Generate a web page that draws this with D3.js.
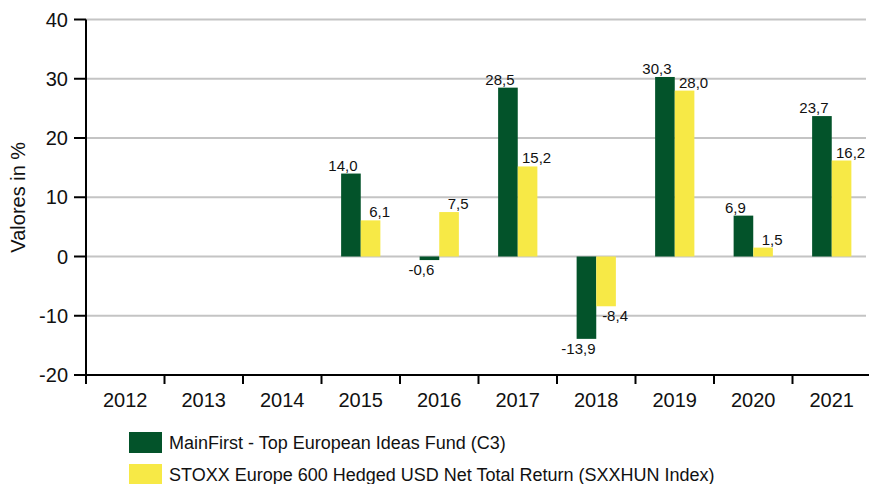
<!DOCTYPE html>
<html>
<head>
<meta charset="utf-8">
<script src="https://cdn.jsdelivr.net/npm/d3@7"></script>
<style>
  html, body { margin: 0; padding: 0; background: #fff; }
  svg { display: block; font-family: "Liberation Sans", Arial, sans-serif; }
</style>
</head>
<body>
<div id="chart"></div>
<script>
// Données
const years = ["2012", "2013", "2014", "2015", "2016", "2017", "2018", "2019", "2020", "2021"]
const fund = [null, null, null, 14.0, -0.6, 28.5, -13.9, 30.3, 6.9, 23.7]
const index = [null, null, null, 6.1, 7.5, 15.2, -8.4, 28.0, 1.5, 16.2]
const yTicks = [-20, -10, 0, 10, 20, 30, 40]
const seriesNames = [
  "MainFirst - Top European Ideas Fund (C3)",
  "STOXX Europe 600 Hedged USD Net Total Return (SXXHUN Index)",
]
const colors = ["#03532a", "#f7e946"]

const W = 869, H = 484
const svg = d3.select("#chart").append("svg")
  .attr("width", W).attr("height", H)

const x = d3.scaleBand().domain(years).range([86, 871])
const y = d3.scaleLinear().domain([-20, 40]).range([375, 19.5])
const barW = x.bandwidth() / 4

// Grille
svg.append("g")
  .selectAll("line")
  .data(yTicks.filter(d => d > -20))
  .join("line")
  .attr("x1", 86).attr("x2", 866)
  .attr("y1", d => y(d)).attr("y2", d => y(d))
  .attr("stroke", "#c4c4c4").attr("stroke-width", 2)

// Barres
const series = [fund, index]
series.forEach((vals, s) => {
  svg.append("g")
    .selectAll("rect")
    .data(years.map((yr, i) => ({ yr, v: vals[i] })).filter(d => d.v !== null))
    .join("rect")
    .attr("x", d => x(d.yr) + x.bandwidth() / 2 - barW + s * barW)
    .attr("width", barW)
    .attr("y", d => y(Math.max(0, d.v)))
    .attr("height", d => Math.abs(y(d.v) - y(0)))
    .attr("fill", colors[s])
})

// Étiquettes de valeurs
series.forEach((vals, s) => {
  svg.append("g")
    .selectAll("text")
    .data(years.map((yr, i) => ({ yr, v: vals[i] })).filter(d => d.v !== null))
    .join("text")
    .attr("x", d => x(d.yr) + x.bandwidth() / 2 - barW / 2 + s * barW + (s === 0 ? -8 : 9))
    .attr("y", d => d.v >= 0 ? y(d.v) - 3 : y(d.v) + 15)
    .attr("text-anchor", "middle")
    .attr("font-size", 15)
    .attr("fill", "#111")
    .text(d => d3.format(".1f")(d.v).replace(".", ",").replace("−", "-"))
})

// Axe Y
svg.append("line")
  .attr("x1", 86).attr("x2", 86).attr("y1", y(40)).attr("y2", y(-20) + 8)
  .attr("stroke", "#000").attr("stroke-width", 2)
svg.append("g")
  .selectAll("line")
  .data(yTicks)
  .join("line")
  .attr("x1", 74).attr("x2", 86)
  .attr("y1", d => y(d)).attr("y2", d => y(d))
  .attr("stroke", "#000").attr("stroke-width", 2)
svg.append("g")
  .selectAll("text")
  .data(yTicks)
  .join("text")
  .attr("x", 68).attr("y", d => y(d))
  .attr("dy", "0.36em")
  .attr("text-anchor", "end")
  .attr("font-size", 20)
  .attr("fill", "#111")
  .text(d => d)

svg.append("text")
  .attr("transform", `translate(25,${(y(40) + y(-20)) / 2}) rotate(-90)`)
  .attr("text-anchor", "middle")
  .attr("font-size", 20)
  .attr("fill", "#111")
  .text("Valores in %")

// Axe X
svg.append("line")
  .attr("x1", 86).attr("x2", W).attr("y1", y(-20)).attr("y2", y(-20))
  .attr("stroke", "#000").attr("stroke-width", 2)
svg.append("g")
  .selectAll("line")
  .data(years)
  .join("line")
  .attr("x1", d => x(d)).attr("x2", d => x(d))
  .attr("y1", y(-20)).attr("y2", y(-20) + 9)
  .attr("stroke", "#000").attr("stroke-width", 2)
svg.append("g")
  .selectAll("text")
  .data(years)
  .join("text")
  .attr("x", d => x(d) + x.bandwidth() / 2)
  .attr("y", 407)
  .attr("text-anchor", "middle")
  .attr("font-size", 20)
  .attr("fill", "#111")
  .text(d => d)

// Légende
seriesNames.forEach((name, i) => {
  const row = svg.append("g").attr("transform", `translate(129,${432 + i * 32})`)
  row.append("rect").attr("width", 33).attr("height", 21).attr("fill", colors[i])
  row.append("text").attr("x", 40).attr("y", 17)
    .attr("font-size", 18).attr("fill", "#111")
    .text(name)
})
</script>
</body>
</html>
